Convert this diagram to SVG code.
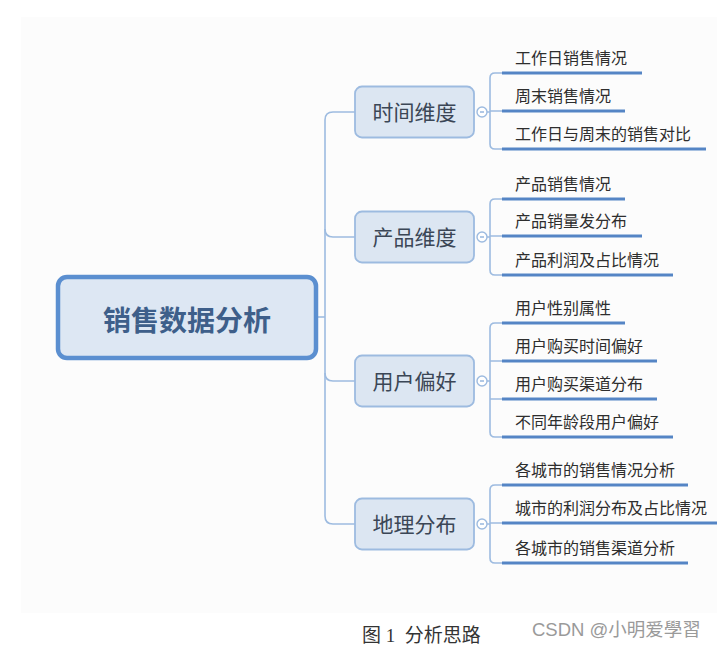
<svg xmlns="http://www.w3.org/2000/svg" width="717" height="648" viewBox="0 0 717 648">
<style>
.cjk{font-family:"Noto Sans CJK SC","Noto Sans",sans-serif}
.main-box{fill:#dde7f3;stroke:#5b8fd0;stroke-width:4.5}
.main-text{font-size:28px;font-weight:bold;fill:#3e5f8a}
.br-box{fill:#dce6f2;stroke:#9dbbe0;stroke-width:1.8}
.br-text{font-size:21px;fill:#3b4656}
.leaf-text{font-size:16px;fill:#2e2e2e}
.ul{stroke:#5585c5;stroke-width:3.2;fill:none}
.conn{stroke:#9dbbe0;stroke-width:1.6;fill:none}
.toggle{fill:#fff;stroke:#9dbbe0;stroke-width:1.4}
</style>
<rect x="0" y="0" width="717" height="648" fill="#fff"/>
<rect x="21" y="17" width="696" height="596" fill="#fcfcfc"/>

<g id="connectors">
  <path class="conn" d="M316,317 H325"/>
  <path class="conn" d="M355,112 H333 Q325,112 325,120 V516 Q325,524 333,524 H355"/>
  <path class="conn" d="M325,229 Q325,237 333,237 H355"/>
  <path class="conn" d="M325,373 Q325,381 333,381 H355"/>
  <path class="conn" d="M487,112 H490 M502,73 H495 Q490,73 490,78 V144 Q490,149 495,149 H502 M490,111 H502"/>
  <path class="conn" d="M487,237 H490 M502,199 H495 Q490,199 490,204 V270 Q490,275 495,275 H502 M490,236 H502"/>
  <path class="conn" d="M487,381 H490 M502,323 H495 Q490,323 490,328 V432 Q490,437 495,437 H502 M490,361 H502 M490,399 H502"/>
  <path class="conn" d="M487,524 H490 M502,485 H495 Q490,485 490,490 V558 Q490,563 495,563 H502 M490,523 H502"/>
</g>

<g id="root">
  <rect class="main-box" x="58" y="277" width="258" height="81" rx="9"/>
  <text class="cjk main-text" x="187" y="331" text-anchor="middle">销售数据分析</text>
</g>

<g id="time">
  <rect class="br-box" x="355" y="86.5" width="119" height="51" rx="7"/>
  <text class="cjk br-text" x="414.5" y="120" text-anchor="middle">时间维度</text>
  <circle class="toggle" cx="482" cy="112" r="5"/>
  <path class="conn" d="M480,112 H484"/>
</g>
<g id="product">
  <rect class="br-box" x="355" y="211.5" width="119" height="51" rx="7"/>
  <text class="cjk br-text" x="414.5" y="245" text-anchor="middle">产品维度</text>
  <circle class="toggle" cx="482" cy="237" r="5"/>
  <path class="conn" d="M480,237 H484"/>
</g>
<g id="user">
  <rect class="br-box" x="355" y="355.5" width="119" height="51" rx="7"/>
  <text class="cjk br-text" x="414.5" y="389" text-anchor="middle">用户偏好</text>
  <circle class="toggle" cx="482" cy="381" r="5"/>
  <path class="conn" d="M480,381 H484"/>
</g>
<g id="geo">
  <rect class="br-box" x="355" y="498.5" width="119" height="51" rx="7"/>
  <text class="cjk br-text" x="414.5" y="532" text-anchor="middle">地理分布</text>
  <circle class="toggle" cx="482" cy="524" r="5"/>
  <path class="conn" d="M480,524 H484"/>
</g>

<g id="time-1"><text class="cjk leaf-text" x="515" y="64">工作日销售情况</text><path class="ul" d="M502,73 H642"/></g>
<g id="time-2"><text class="cjk leaf-text" x="515" y="102">周末销售情况</text><path class="ul" d="M502,111 H625"/></g>
<g id="time-3"><text class="cjk leaf-text" x="515" y="140">工作日与周末的销售对比</text><path class="ul" d="M502,149 H706"/></g>

<g id="product-1"><text class="cjk leaf-text" x="515" y="190">产品销售情况</text><path class="ul" d="M502,199 H625"/></g>
<g id="product-2"><text class="cjk leaf-text" x="515" y="227">产品销量发分布</text><path class="ul" d="M502,236 H642"/></g>
<g id="product-3"><text class="cjk leaf-text" x="515" y="266">产品利润及占比情况</text><path class="ul" d="M502,275 H673"/></g>

<g id="user-1"><text class="cjk leaf-text" x="515" y="314">用户性别属性</text><path class="ul" d="M502,323 H625"/></g>
<g id="user-2"><text class="cjk leaf-text" x="515" y="352">用户购买时间偏好</text><path class="ul" d="M502,361 H657"/></g>
<g id="user-3"><text class="cjk leaf-text" x="515" y="390">用户购买渠道分布</text><path class="ul" d="M502,399 H657"/></g>
<g id="user-4"><text class="cjk leaf-text" x="515" y="428">不同年龄段用户偏好</text><path class="ul" d="M502,437 H673"/></g>

<g id="geo-1"><text class="cjk leaf-text" x="515" y="476">各城市的销售情况分析</text><path class="ul" d="M502,485 H688"/></g>
<g id="geo-2"><text class="cjk leaf-text" x="515" y="514">城市的利润分布及占比情况</text><path class="ul" d="M502,523 H717"/></g>
<g id="geo-3"><text class="cjk leaf-text" x="515" y="554">各城市的销售渠道分析</text><path class="ul" d="M502,563 H688"/></g>

<text x="362" y="642" font-family="'Liberation Serif','Noto Sans CJK SC',serif" font-size="19" fill="#333" xml:space="preserve">图 1  分析思路</text>
<text x="532" y="636" font-family="'Liberation Sans','Noto Sans CJK SC',sans-serif" font-size="18.5" fill="#9a9a9a">CSDN @小明爱學習</text>
</svg>
